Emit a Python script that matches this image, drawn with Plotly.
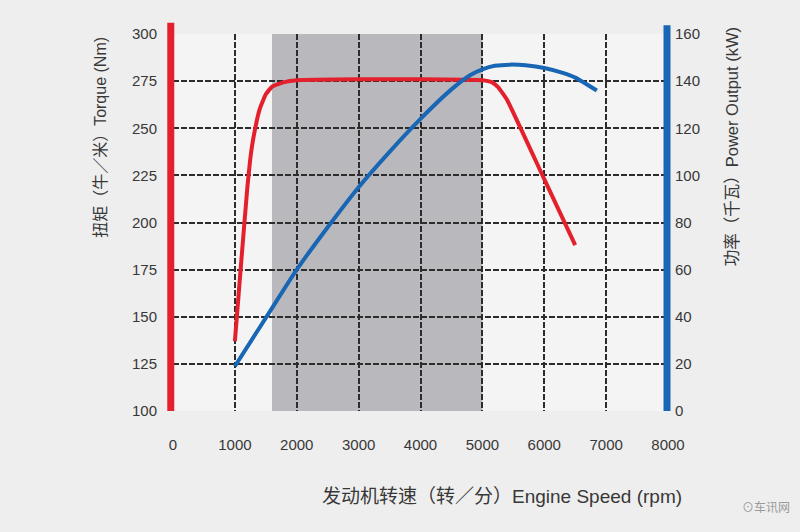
import plotly.graph_objects as go

# ---- data ----
torque_rpm = [1000, 1100, 1200, 1250, 1300, 1400, 1500, 1600, 1800, 2000, 3000, 4000, 5000, 5150, 5250, 5400, 6000, 6500]
torque_nm = [137, 178, 218, 234, 245, 260, 268, 272, 274.5, 275.5, 276, 276, 275.5, 274.5, 272, 265, 223, 188]

power_rpm = [1000, 1500, 2000, 2500, 3000, 3500, 4000, 4500, 4800, 5000, 5200, 5450, 5700, 6000, 6300, 6500, 6850]
power_kw = [19, 39.5, 60, 78, 95, 110, 124, 136.5, 142.5, 145, 146.5, 147, 146.7, 145.6, 143.5, 141.5, 136]

x_ticks = [0, 1000, 2000, 3000, 4000, 5000, 6000, 7000, 8000]
torque_ticks = [100, 125, 150, 175, 200, 225, 250, 275, 300]
power_ticks = [0, 20, 40, 60, 80, 100, 120, 140, 160]
band_rpm = [1600, 5000]

RED = "#e3202c"
BLUE = "#1866b4"
FONT = "Arial, 'Liberation Sans', 'Noto Sans CJK SC', sans-serif"
TXT = "#383838"
GRID = "#2c2c2c"

fig = go.Figure()
fig.add_trace(go.Scatter(x=torque_rpm, y=torque_nm, mode="lines",
                         line=dict(color=RED, width=4, shape="spline", smoothing=0.4),
                         yaxis="y", showlegend=False))
fig.add_trace(go.Scatter(x=power_rpm, y=power_kw, mode="lines",
                         line=dict(color=BLUE, width=4, shape="spline", smoothing=0.6),
                         yaxis="y2", showlegend=False))

fig.add_vrect(x0=band_rpm[0], x1=band_rpm[1], fillcolor="#b9b9bd", line_width=0, layer="below")

# thick coloured axis bars
fig.add_shape(type="line", xref="x domain", yref="y domain", x0=-0.0045, x1=-0.0045, y0=0, y1=1.03,
              line=dict(color=RED, width=7))
fig.add_shape(type="line", xref="x domain", yref="y domain", x0=0.998, x1=0.998, y0=0, y1=1.023,
              line=dict(color=BLUE, width=7))

fig.update_layout(
    width=800, height=532,
    margin=dict(l=173, r=132, t=34, b=121),
    paper_bgcolor="#eeeeee",
    plot_bgcolor="#f4f4f4",
    font=dict(family=FONT, color=TXT, size=15),
    xaxis=dict(range=[0, 8000], tickvals=x_ticks, ticktext=[str(v) for v in x_ticks],
               showgrid=True, gridcolor=GRID, gridwidth=1.5, griddash="6px,2px",
               zeroline=False, showline=False, ticks="outside", ticklen=20, tickcolor="rgba(0,0,0,0)",
               tickfont=dict(size=15, color=TXT)),
    yaxis=dict(range=[100, 300], tickvals=torque_ticks, showgrid=True, gridcolor=GRID,
               gridwidth=1.5, griddash="6px,2px", zeroline=False, showline=False,
               ticks="outside", ticklen=12, tickcolor="rgba(0,0,0,0)", tickfont=dict(size=15, color=TXT)),
    yaxis2=dict(range=[0, 160], tickvals=power_ticks, overlaying="y", side="right", showgrid=False,
                zeroline=False, showline=False, ticks="outside", ticklen=3, tickcolor="rgba(0,0,0,0)",
                tickfont=dict(size=15, color=TXT)),
    showlegend=False,
)

fig.add_annotation(text="扭矩（牛／米）Torque (Nm)", textangle=-90, xref="paper", yref="paper",
                   x=-0.147, y=0.997, xanchor="center", yanchor="top", showarrow=False,
                   font=dict(size=16, color=TXT))
fig.add_annotation(text="功率（千瓦）Power Output (kW)", textangle=-90, xref="paper", yref="paper",
                   x=1.131, y=1.024, xanchor="center", yanchor="top", showarrow=False,
                   font=dict(size=16.5, color=TXT))
fig.add_annotation(text="发动机转速（转／分）Engine Speed (rpm)", xref="paper", yref="paper",
                   x=0.665, y=-0.228, xanchor="center", yanchor="middle", showarrow=False,
                   font=dict(size=19, color=TXT))
fig.add_annotation(text="⊙车讯网", xref="paper", yref="paper", x=1.25, y=-0.255,
                   xanchor="right", yanchor="middle", showarrow=False,
                   font=dict(size=12, color="#9a9a9a"))

fig.write_html("out.html")
